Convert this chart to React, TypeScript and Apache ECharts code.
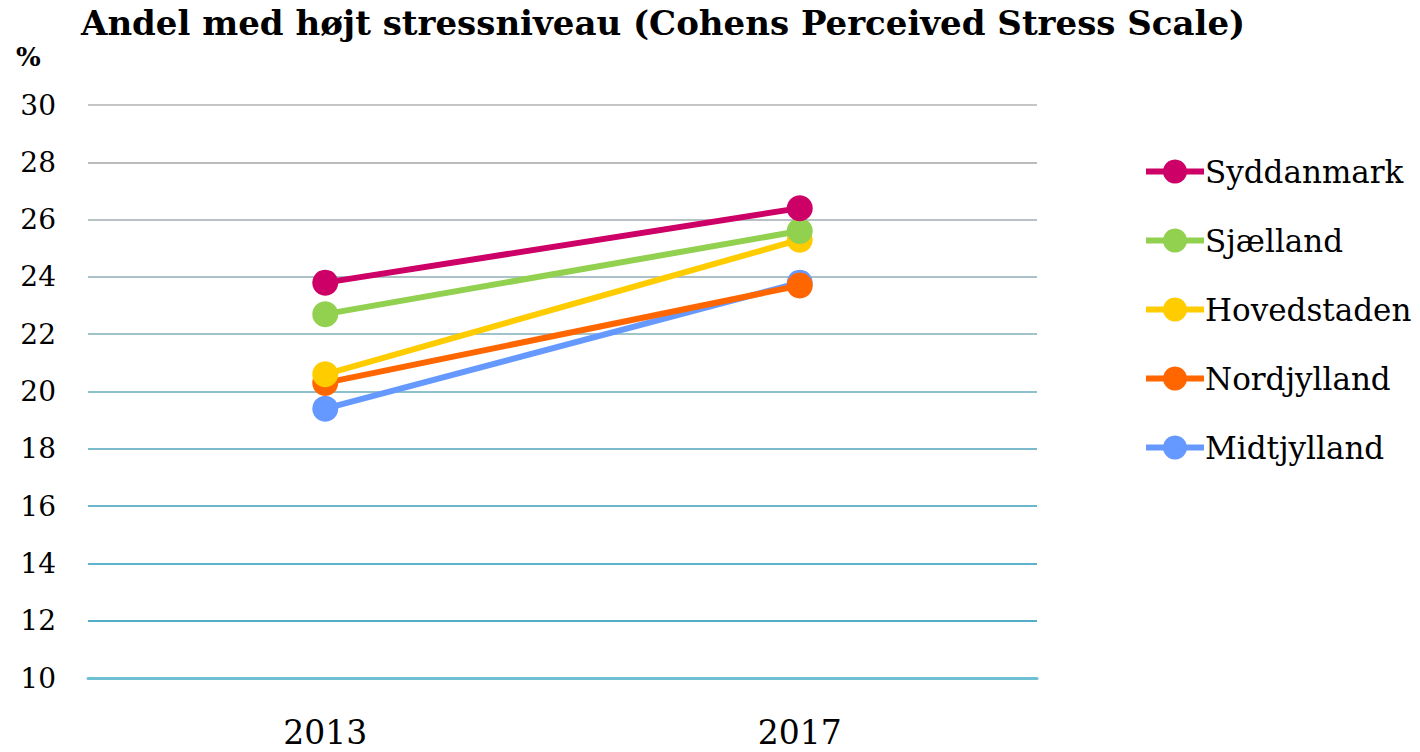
import React, { useEffect, useRef } from "react";
import * as echarts from "echarts";

const titleText = "Andel med højt stressniveau (Cohens Perceived Stress Scale)";
const years = ["2013", "2017"];
const regions = ["Syddanmark", "Sjælland", "Hovedstaden", "Nordjylland", "Midtjylland"];
const syddanmark = [23.8, 26.4];
const sjaelland = [22.7, 25.6];
const hovedstaden = [20.6, 25.3];
const nordjylland = [20.3, 23.7];
const midtjylland = [19.4, 23.8];
const regionColors = ["#cc0066", "#92d050", "#ffcc00", "#ff6600", "#6699ff"];
const gridColors = ["#70c0d4", "#52adc9", "#5eb2cb", "#6cb6cb", "#7cbacb", "#8ebfcc", "#a0c4cc", "#acc2c8", "#b8c2c4", "#bcbcbc", "#c6c6c6"];

const FONT = "'DejaVu Serif', serif";

export default function App() {
  const ref = useRef<HTMLDivElement>(null);
  useEffect(() => {
    if (!ref.current) return;
    const chart = echarts.init(ref.current, null, { renderer: "svg" });
    const values = [syddanmark, sjaelland, hovedstaden, nordjylland, midtjylland];
    chart.setOption({
      animation: false,
      title: {
        text: titleText,
        left: 76,
        top: 1,
        textStyle: { fontFamily: FONT, fontWeight: "bold", fontSize: 34, color: "#000" },
      },
      graphic: [
        {
          type: "text",
          left: 16,
          top: 44,
          style: { text: "%", font: "bold 26px " + FONT, fill: "#000" },
        },
      ],
      legend: {
        orient: "vertical",
        left: 1138,
        top: 151,
        itemWidth: 58,
        itemHeight: 30,
        itemGap: 38,
        data: regions,
        lineStyle: { width: 6 },
        textStyle: { fontFamily: FONT, fontSize: 31, color: "#000", padding: [0, 0, 0, -4] },
      },
      grid: { left: 88, right: 383, top: 105, bottom: 74 },
      xAxis: {
        type: "category",
        data: years,
        boundaryGap: true,
        axisLine: { show: true, lineStyle: { color: "#70c0d4", width: 3 } },
        axisTick: { show: false },
        axisLabel: { fontFamily: FONT, fontSize: 33, color: "#000", margin: 38 },
      },
      yAxis: {
        type: "value",
        min: 10,
        max: 30,
        interval: 2,
        axisLine: { show: false },
        axisTick: { show: false },
        axisLabel: { fontFamily: FONT, fontSize: 28, color: "#000", margin: 32 },
        splitLine: { show: true, lineStyle: { color: gridColors, width: 2 } },
      },
      series: regions.map((name, i) => ({
        name,
        type: "line",
        data: values[i],
        symbol: "circle",
        symbolSize: 26,
        lineStyle: { width: 6, color: regionColors[i] },
        itemStyle: { color: regionColors[i] },
        z: 10 - i,
      })),
    });
    return () => chart.dispose();
  }, []);
  return <div ref={ref} style={{ width: 1420, height: 752, position: "absolute", left: 0, top: 0 }} />;
}
